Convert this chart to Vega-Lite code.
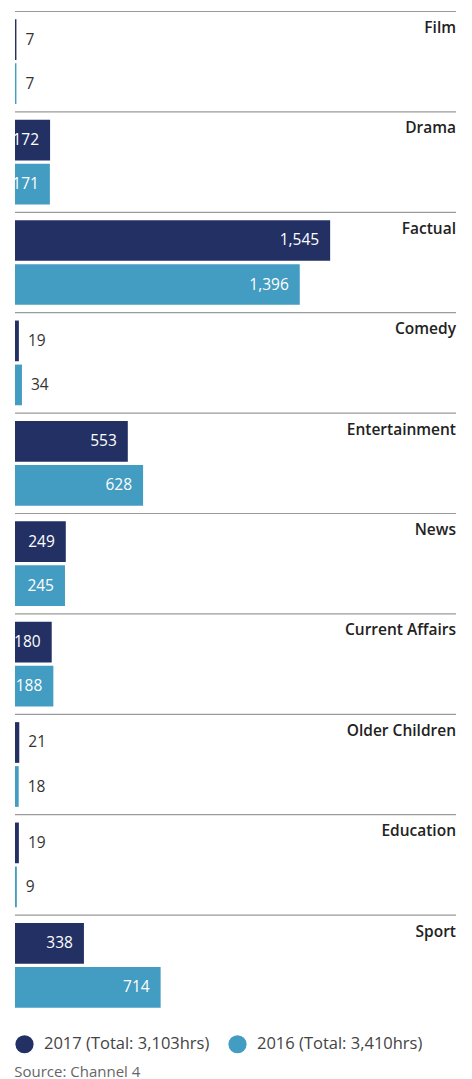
{
  "$schema": "https://vega.github.io/schema/vega-lite/v6.json",
  "width": 441,
  "height": 1004,
  "autosize": {"type": "none"},
  "padding": {"left": 15, "top": 11.5, "right": 16, "bottom": 63.5},
  "background": "white",
  "config": {"view": {"stroke": null}, "font": "Open Sans"},
  "title": {
    "text": "Source: Channel 4",
    "orient": "bottom",
    "anchor": "start",
    "fontSize": 15,
    "fontWeight": "normal",
    "color": "#666666",
    "font": "Open Sans",
    "offset": 11,
    "dx": 2
  },
  "data": {
    "values": [
      {"category": "Film", "year": "2017", "hours": 7},
      {"category": "Film", "year": "2016", "hours": 7},
      {"category": "Drama", "year": "2017", "hours": 172},
      {"category": "Drama", "year": "2016", "hours": 171},
      {"category": "Factual", "year": "2017", "hours": 1545},
      {"category": "Factual", "year": "2016", "hours": 1396},
      {"category": "Comedy", "year": "2017", "hours": 19},
      {"category": "Comedy", "year": "2016", "hours": 34},
      {"category": "Entertainment", "year": "2017", "hours": 553},
      {"category": "Entertainment", "year": "2016", "hours": 628},
      {"category": "News", "year": "2017", "hours": 249},
      {"category": "News", "year": "2016", "hours": 245},
      {"category": "Current Affairs", "year": "2017", "hours": 180},
      {"category": "Current Affairs", "year": "2016", "hours": 188},
      {"category": "Older Children", "year": "2017", "hours": 21},
      {"category": "Older Children", "year": "2016", "hours": 18},
      {"category": "Education", "year": "2017", "hours": 19},
      {"category": "Education", "year": "2016", "hours": 9},
      {"category": "Sport", "year": "2017", "hours": 338},
      {"category": "Sport", "year": "2016", "hours": 714}
    ]
  },
  "layer": [
    {
      "mark": {"type": "bar"},
      "encoding": {
        "y": {
          "field": "category",
          "type": "nominal",
          "sort": null,
          "scale": {"paddingInner": 0, "paddingOuter": 0},
          "axis": null
        },
        "x": {
          "field": "hours",
          "type": "quantitative",
          "scale": {"domain": [0, 2162], "nice": false},
          "axis": null
        },
        "yOffset": {
          "field": "year",
          "type": "nominal",
          "sort": null,
          "scale": {"paddingInner": 0.075, "paddingOuter": 0.178}
        },
        "color": {
          "field": "year",
          "type": "nominal",
          "sort": null,
          "scale": {"domain": ["2017", "2016"], "range": ["#233064", "#439cc1"]},
          "legend": {
            "title": null,
            "orient": "bottom",
            "direction": "horizontal",
            "offset": 19,
            "padding": 0,
            "symbolType": "circle",
            "symbolSize": 330,
            "symbolStrokeWidth": 0,
            "symbolOpacity": 1,
            "labelFont": "Open Sans",
            "labelFontSize": 16.5,
            "labelColor": "#444444",
            "labelOffset": 10,
            "columnPadding": 18,
            "labelLimit": 300,
            "labelExpr": "datum.label == '2017' ? '2017 (Total: 3,103hrs)' : '2016 (Total: 3,410hrs)'"
          }
        }
      }
    },
    {
      "transform": [{"filter": "datum.year == '2017'"}],
      "mark": {"type": "rule", "color": "#9a9a9a", "strokeWidth": 1.2},
      "encoding": {
        "y": {"field": "category", "type": "nominal", "sort": null, "bandPosition": 0},
        "x": {"datum": 0},
        "x2": {"datum": 2162}
      }
    },
    {
      "transform": [{"filter": "datum.hours >= 100"}],
      "mark": {"type": "text", "align": "right", "baseline": "middle", "dx": -11, "fontSize": 15.5, "color": "white", "font": "Open Sans"},
      "encoding": {
        "y": {"field": "category", "type": "nominal", "sort": null},
        "x": {"field": "hours", "type": "quantitative"},
        "yOffset": {"field": "year", "type": "nominal", "sort": null},
        "text": {"field": "hours", "type": "quantitative", "format": ","}
      }
    },
    {
      "transform": [{"filter": "datum.hours < 100"}],
      "mark": {"type": "text", "align": "left", "baseline": "middle", "dx": 9, "fontSize": 15.5, "color": "#333333", "font": "Open Sans"},
      "encoding": {
        "y": {"field": "category", "type": "nominal", "sort": null},
        "x": {"field": "hours", "type": "quantitative"},
        "yOffset": {"field": "year", "type": "nominal", "sort": null},
        "text": {"field": "hours", "type": "quantitative", "format": ","}
      }
    },
    {
      "transform": [{"filter": "datum.year == '2017'"}],
      "mark": {"type": "text", "align": "right", "baseline": "alphabetic", "dy": 21.5, "fontSize": 15.5, "fontWeight": 600, "color": "#222222", "font": "Open Sans"},
      "encoding": {
        "y": {"field": "category", "type": "nominal", "sort": null, "bandPosition": 0},
        "x": {"datum": 2162},
        "text": {"field": "category"}
      }
    }
  ]
}
